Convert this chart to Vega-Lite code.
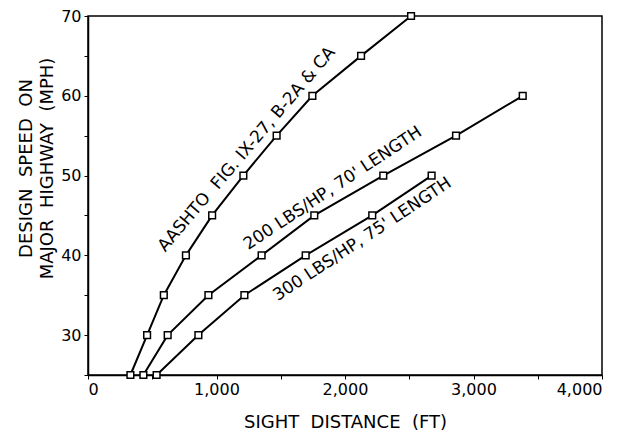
{
  "$schema": "https://vega.github.io/schema/vega-lite/v6.json",
  "width": 514,
  "height": 359,
  "autosize": {"type": "none"},
  "padding": {"left": 88, "top": 16, "right": 24, "bottom": 59},
  "background": "white",
  "config": {
    "view": {"stroke": "black", "strokeWidth": 1.5},
    "font": "DejaVu Sans",
    "axis": {
      "grid": false,
      "domainColor": "black",
      "domainWidth": 1.5,
      "tickColor": "black",
      "labelColor": "black",
      "titleColor": "black",
      "labelFont": "DejaVu Sans",
      "titleFont": "DejaVu Sans",
      "labelFontSize": 16,
      "titleFontSize": 18,
      "titleFontWeight": "normal"
    }
  },
  "datasets": {
    "curves": [
      {"series": "AASHTO", "distance": 330, "speed": 25},
      {"series": "AASHTO", "distance": 460, "speed": 30},
      {"series": "AASHTO", "distance": 590, "speed": 35},
      {"series": "AASHTO", "distance": 762, "speed": 40},
      {"series": "AASHTO", "distance": 966, "speed": 45},
      {"series": "AASHTO", "distance": 1209, "speed": 50},
      {"series": "AASHTO", "distance": 1468, "speed": 55},
      {"series": "AASHTO", "distance": 1746, "speed": 60},
      {"series": "AASHTO", "distance": 2125, "speed": 65},
      {"series": "AASHTO", "distance": 2514, "speed": 70},
      {"series": "200", "distance": 431, "speed": 25},
      {"series": "200", "distance": 620, "speed": 30},
      {"series": "200", "distance": 937, "speed": 35},
      {"series": "200", "distance": 1351, "speed": 40},
      {"series": "200", "distance": 1761, "speed": 45},
      {"series": "200", "distance": 2298, "speed": 50},
      {"series": "200", "distance": 2864, "speed": 55},
      {"series": "200", "distance": 3383, "speed": 60},
      {"series": "300", "distance": 534, "speed": 25},
      {"series": "300", "distance": 859, "speed": 30},
      {"series": "300", "distance": 1217, "speed": 35},
      {"series": "300", "distance": 1694, "speed": 40},
      {"series": "300", "distance": 2212, "speed": 45},
      {"series": "300", "distance": 2674, "speed": 50}
    ]
  },
  "encoding": {
    "x": {
      "field": "distance",
      "type": "quantitative",
      "scale": {"domain": [0, 4000], "nice": false},
      "axis": {
        "title": "SIGHT\u00a0 DISTANCE\u00a0 (FT)",
        "values": [0, 500, 1000, 1500, 2000, 2500, 3000, 3500, 4000],
        "labelExpr": "datum.value % 1000 == 0 ? format(datum.value, ',d') : ''",
        "tickSize": 4,
        "labelPadding": 2,
        "titlePadding": 16
      }
    },
    "y": {
      "field": "speed",
      "type": "quantitative",
      "scale": {"domain": [25, 70], "nice": false, "zero": false},
      "axis": {
        "title": ["DESIGN\u00a0 SPEED\u00a0 ON", "MAJOR\u00a0 HIGHWAY\u00a0 (MPH)"],
        "titleLineHeight": 21,
        "titleY": 152,
        "values": [25, 30, 35, 40, 45, 50, 55, 60, 65, 70],
        "labelExpr": "datum.value % 10 == 0 ? datum.label : ''",
        "tickSize": 4,
        "labelPadding": 3,
        "titlePadding": 4
      }
    }
  },
  "layer": [
    {
      "data": {"name": "curves"},
      "mark": {"type": "line", "color": "black", "strokeWidth": 2},
      "encoding": {"detail": {"field": "series"}}
    },
    {
      "data": {"name": "curves"},
      "mark": {"type": "point", "shape": "square", "size": 45, "filled": true, "fill": "white", "stroke": "black", "strokeWidth": 1.5, "opacity": 1}
    },
    {
      "data": {"values": [{"label": "AASHTO\u00a0 FIG. IX-27, B-2A & CA", "distance": 1235, "speed": 53.3}]},
      "mark": {"type": "text", "angle": -49.5, "fontSize": 17, "align": "center", "baseline": "middle", "color": "black"},
      "encoding": {"text": {"field": "label"}}
    },
    {
      "data": {"values": [{"label": "200 LBS/HP, 70' LENGTH", "distance": 1905, "speed": 48.4}]},
      "mark": {"type": "text", "angle": -33.5, "fontSize": 17, "align": "center", "baseline": "middle", "color": "black"},
      "encoding": {"text": {"field": "label"}}
    },
    {
      "data": {"values": [{"label": "300 LBS/HP, 75' LENGTH", "distance": 2135, "speed": 42.0}]},
      "mark": {"type": "text", "angle": -33.5, "fontSize": 17, "align": "center", "baseline": "middle", "color": "black"},
      "encoding": {"text": {"field": "label"}}
    }
  ]
}
